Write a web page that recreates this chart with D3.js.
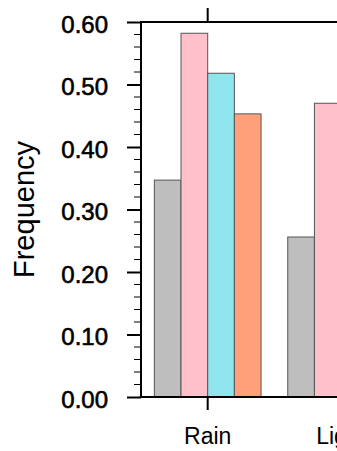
<!DOCTYPE html>
<html>
<head>
<meta charset="utf-8">
<script src="https://cdn.jsdelivr.net/npm/d3@7"></script>
<style>
  html, body { margin: 0; padding: 0; background: #fff; overflow: hidden; }
  svg { display: block; }
</style>
</head>
<body>
<svg id="chart" width="337" height="451"></svg>
<script>
// categories (the second one is cut by the window edge)
const categories = ['Rain', 'Light'];
const seriesNames = ['s1', 's2', 's3', 's4'];
const seriesColors = ['#BEBEBE', '#FFC0CB', '#8EE5EE', '#FFA07A'];
// values per series, one per category (null = outside the picture)
const series1 = [0.347, 0.256];
const series2 = [0.582, 0.470];
const series3 = [0.518, null];
const series4 = [0.453, null];
const yTicks = [0, 0.1, 0.2, 0.3, 0.4, 0.5, 0.6];
const yLabel = 'Frequency';

const allSeries = [series1, series2, series3, series4];

const svg = d3.select('#chart');
const FONT = '"Liberation Sans", Helvetica, Arial, sans-serif';

const LEFT = 141, TOP = 22, BOTTOM = 397;
const STEP = 133.4;

const y = d3.scaleLinear().domain([0, 0.6]).range([BOTTOM, TOP]);
const x = d3.scaleBand()
  .domain(categories)
  .range([LEFT, LEFT + STEP * categories.length])
  .paddingInner(0.2)
  .paddingOuter(0.1);
const xs = d3.scaleBand()
  .domain(seriesNames)
  .range([0, x.bandwidth()]);

// bars
const bars = [];
categories.forEach((c, i) => {
  allSeries.forEach((s, j) => {
    if (s[i] != null) bars.push({ cat: c, key: seriesNames[j], value: s[i], color: seriesColors[j] });
  });
});

svg.append('g')
  .selectAll('rect')
  .data(bars)
  .enter()
  .append('rect')
  .attr('x', d => x(d.cat) + xs(d.key))
  .attr('y', d => y(d.value))
  .attr('width', xs.bandwidth())
  .attr('height', d => y(0) - y(d.value))
  .attr('fill', d => d.color)
  .attr('stroke', '#555')
  .attr('stroke-width', 1);

// frame lines (left, top, bottom)
const frame = svg.append('g').attr('stroke', '#000').attr('stroke-width', 2);
frame.append('line').attr('x1', LEFT).attr('x2', LEFT).attr('y1', TOP - 1).attr('y2', BOTTOM + 1);
frame.append('line').attr('x1', LEFT - 1).attr('x2', 337).attr('y1', TOP).attr('y2', TOP);
frame.append('line').attr('x1', LEFT - 1).attr('x2', 337).attr('y1', BOTTOM).attr('y2', BOTTOM);

// y axis: major ticks with labels, minor ticks
const yAxis = d3.axisLeft(y)
  .tickValues(yTicks)
  .tickSize(14)
  .tickPadding(19)
  .tickFormat(d3.format('.2f'));
const gy = svg.append('g').attr('transform', `translate(${LEFT},0)`).call(yAxis);
gy.select('.domain').remove();
gy.selectAll('.tick line').attr('stroke', '#000').attr('stroke-width', 2);
gy.selectAll('.tick text')
  .attr('dy', '0.42em')
  .style('font-family', FONT)
  .style('font-size', '24px')
  .attr('fill', '#000')
  .attr('stroke', '#000')
  .attr('stroke-width', 0.6);

const minorTicks = d3.range(0, 0.6001, 0.02).filter(v => Math.abs(v * 10 - Math.round(v * 10)) > 1e-6);
svg.append('g')
  .selectAll('line')
  .data(minorTicks)
  .enter()
  .append('line')
  .attr('x1', LEFT - 7)
  .attr('x2', LEFT)
  .attr('y1', d => y(d))
  .attr('y2', d => y(d))
  .attr('stroke', '#000')
  .attr('stroke-width', 1);

// x ticks on top and bottom, category labels
const centers = categories.map(c => x(c) + x.bandwidth() / 2);
const xt = svg.append('g').attr('stroke', '#000').attr('stroke-width', 2);
centers.forEach(cx => {
  xt.append('line').attr('x1', cx).attr('x2', cx).attr('y1', TOP).attr('y2', TOP - 14);
  xt.append('line').attr('x1', cx).attr('x2', cx).attr('y1', BOTTOM).attr('y2', BOTTOM + 13);
});

svg.append('g')
  .selectAll('text')
  .data(categories)
  .enter()
  .append('text')
  .attr('x', d => x(d) + x.bandwidth() / 2)
  .attr('y', BOTTOM + 47.3)
  .attr('text-anchor', 'middle')
  .style('font-family', FONT)
  .style('font-size', '23px')
  .attr('fill', '#000')
  .text(d => d);

// y title
svg.append('text')
  .attr('transform', `translate(33.5,${(TOP + BOTTOM) / 2}) rotate(-90)`)
  .attr('text-anchor', 'middle')
  .style('font-family', FONT)
  .style('font-size', '29px')
  .attr('fill', '#000')
  .text(yLabel);
</script>
</body>
</html>
